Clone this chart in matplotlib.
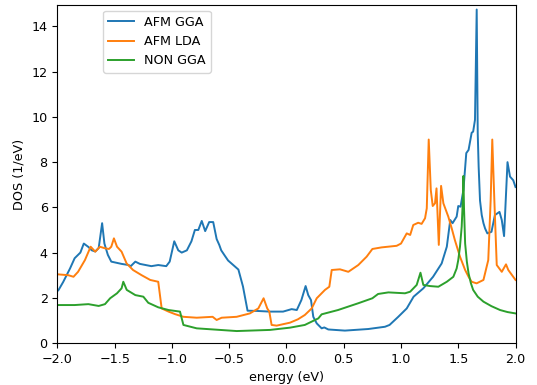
import numpy as np
import matplotlib.pyplot as plt

# 読み取ったデータ (energy, DOS)
afm_gga_e = [-2.0, -1.99, -1.95, -1.89, -1.85, -1.80, -1.77, -1.73, -1.70, -1.67, -1.64, -1.61, -1.59,
             -1.56, -1.53, -1.44, -1.38, -1.36, -1.32, -1.28, -1.18, -1.12, -1.05, -1.02, -0.98,
             -0.945, -0.915, -0.87, -0.83, -0.80, -0.77, -0.74, -0.71, -0.675, -0.64, -0.61, -0.587,
             -0.57, -0.537, -0.51, -0.465, -0.42, -0.38, -0.34, -0.26, -0.145, -0.03, 0.045, 0.09,
             0.13, 0.167, 0.19, 0.214, 0.234, 0.264, 0.307, 0.33, 0.365, 0.51, 0.714, 0.86,
             0.90, 0.976, 1.05, 1.11, 1.195, 1.28, 1.355, 1.40, 1.43, 1.45, 1.486, 1.50,
             1.52, 1.545, 1.57, 1.59, 1.617, 1.63, 1.646, 1.661, 1.67, 1.678, 1.69, 1.705,
             1.72, 1.734, 1.754, 1.79, 1.82, 1.86, 1.88, 1.90, 1.93, 1.952, 1.98, 2.0]
afm_gga_dos = [2.3, 2.35, 2.7, 3.3, 3.75, 4.0, 4.4, 4.25, 4.1, 4.05, 4.2, 5.3, 4.4,
               3.9, 3.6, 3.5, 3.45, 3.4, 3.6, 3.5, 3.4, 3.45, 3.4, 3.6, 4.5,
               4.1, 4.0, 4.1, 4.5, 5.0, 5.0, 5.4, 4.95, 5.35, 5.35, 4.6, 4.34,
               4.1, 3.85, 3.65, 3.45, 3.25, 2.5, 1.43, 1.42, 1.39, 1.39, 1.5, 1.46,
               1.9, 2.52, 2.12, 1.9, 1.16, 0.87, 0.65, 0.69, 0.6, 0.55, 0.62, 0.72,
               0.8, 1.16, 1.53, 2.05, 2.42, 2.93, 3.52, 4.26, 5.44, 5.3, 5.59, 6.06,
               6.03, 6.77, 8.4, 8.54, 9.3, 9.35, 9.87, 14.75, 9.28, 7.8, 6.3, 5.66,
               5.3, 5.07, 4.85, 4.92, 5.66, 5.8, 5.44, 4.73, 8.0, 7.36, 7.2, 6.9]

afm_lda_e = [-2.0, -1.905, -1.86, -1.82, -1.76, -1.71, -1.67, -1.63, -1.585, -1.55, -1.53, -1.507,
             -1.48, -1.44, -1.396, -1.34, -1.265, -1.19, -1.12, -1.09, -1.03, -0.974, -0.90, -0.784,
             -0.645, -0.61, -0.566, -0.435, -0.32, -0.246, -0.20, -0.168, -0.15, -0.13, -0.086, 0.03,
             0.10, 0.16, 0.22, 0.264, 0.336, 0.374, 0.395, 0.467, 0.54, 0.627, 0.70, 0.75,
             0.83, 0.962, 1.0, 1.05, 1.08, 1.107, 1.15, 1.18, 1.21, 1.225, 1.242, 1.26,
             1.277, 1.297, 1.31, 1.33, 1.35, 1.37, 1.413, 1.443, 1.47, 1.515, 1.56, 1.59,
             1.617, 1.66, 1.72, 1.762, 1.783, 1.797, 1.815, 1.836, 1.88, 1.917, 1.937, 2.0]
afm_lda_dos = [3.04, 3.0, 2.93, 3.15, 3.67, 4.26, 4.04, 4.26, 4.19, 4.16, 4.26, 4.63,
               4.26, 4.04, 3.52, 3.23, 3.0, 2.79, 2.71, 1.53, 1.39, 1.28, 1.16, 1.12,
               1.16, 1.02, 1.12, 1.16, 1.31, 1.53, 1.98, 1.53, 1.39, 0.8, 0.77, 0.9,
               1.05, 1.24, 1.53, 1.98, 2.35, 2.49, 3.23, 3.26, 3.15, 3.45, 3.82, 4.16,
               4.23, 4.3, 4.4, 4.85, 4.78, 5.22, 5.32, 5.27, 5.52, 5.96, 9.0, 6.77,
               6.06, 6.18, 6.84, 4.34, 6.95, 6.18, 5.59, 5.07, 4.56, 3.82, 3.23, 2.93,
               2.71, 2.64, 2.79, 3.67, 6.33, 9.0, 6.33, 3.45, 3.15, 3.48, 3.23, 2.79]

non_gga_e = [-2.0, -1.85, -1.73, -1.64, -1.585, -1.54, -1.48, -1.44, -1.425, -1.395, -1.32, -1.25,
             -1.207, -1.12, -1.03, -0.93, -0.90, -0.784, -0.435, -0.144, 0.03, 0.16, 0.278, 0.307,
             0.45, 0.627, 0.75, 0.80, 0.89, 1.035, 1.08, 1.137, 1.17, 1.195, 1.253, 1.326,
             1.40, 1.457, 1.486, 1.50, 1.515, 1.53, 1.54, 1.545, 1.55, 1.56, 1.575, 1.59,
             1.61, 1.63, 1.67, 1.72, 1.79, 1.865, 1.93, 2.0]
non_gga_dos = [1.68, 1.68, 1.72, 1.64, 1.72, 1.98, 2.2, 2.42, 2.71, 2.35, 2.12, 2.05,
               1.78, 1.58, 1.46, 1.39, 0.8, 0.65, 0.53, 0.58, 0.68, 0.8, 1.09, 1.27,
               1.46, 1.76, 1.98, 2.17, 2.24, 2.2, 2.27, 2.57, 3.11, 2.57, 2.52, 2.49,
               2.71, 2.93, 3.3, 3.67, 4.26, 5.15, 6.33, 7.39, 6.0, 4.4, 3.6, 3.08,
               2.65, 2.35, 2.05, 1.83, 1.63, 1.46, 1.37, 1.31]

plt.rcParams["font.size"] = 9.2
fig = plt.figure(figsize=(5.37, 3.85), dpi=100)
ax = fig.add_axes([0.107, 0.109, 0.853, 0.878])

lw = 1.4
ax.plot(afm_gga_e, afm_gga_dos, label="AFM GGA", lw=lw)
ax.plot(afm_lda_e, afm_lda_dos, label="AFM LDA", lw=lw)
ax.plot(non_gga_e, non_gga_dos, label="NON GGA", lw=lw)

ax.set_xlim(-2, 2)
ax.set_ylim(0, 14.95)
ax.set_xlabel("energy (eV)")
ax.set_ylabel("DOS (1/eV)")
ax.legend(loc=(0.1, 0.8))

fig.savefig("out.png", dpi=100)
